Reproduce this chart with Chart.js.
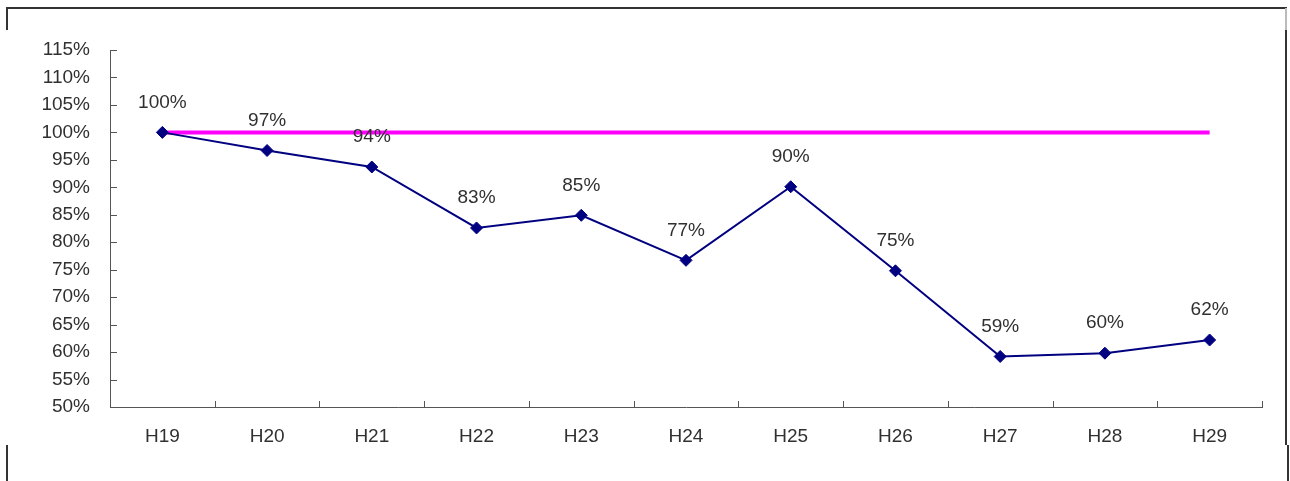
<!DOCTYPE html>
<html>
<head>
<meta charset="utf-8">
<script src="https://cdn.jsdelivr.net/npm/chart.js@4/dist/chart.umd.min.js"></script>
<style>
html,body{margin:0;padding:0;background:#fff;}
#wrap{position:relative;width:1290px;height:481px;}
</style>
</head>
<body>
<div id="wrap"><canvas id="c" width="1290" height="481"></canvas></div>
<script>
const categories = ['H19','H20','H21','H22','H23','H24','H25','H26','H27','H28','H29'];
const ratioValues = [100, 96.7, 93.7, 82.6, 84.9, 76.7, 90.1, 74.8, 59.2, 59.8, 62.2];
const baselineValues = [100, 100, 100, 100, 100, 100, 100, 100, 100, 100, 100];
const yTickMin = 50, yTickMax = 115, yTickStep = 5;

const FONT = '"Liberation Sans", Arial, sans-serif';
const TEXT = '#303030';
const AXIS = '#555555';

const decorPlugin = {
  id: 'decor',
  afterDraw(chart) {
    const ctx = chart.ctx;
    const x = chart.scales.x, y = chart.scales.y;
    const a = chart.chartArea;
    ctx.save();
    // inward tick marks
    ctx.strokeStyle = AXIS;
    ctx.lineWidth = 1;
    ctx.beginPath();
    y.ticks.forEach((t) => {
      const py = Math.round(y.getPixelForValue(t.value)) + 0.5;
      ctx.moveTo(a.left, py);
      ctx.lineTo(a.left + 7, py);
    });
    const n = categories.length;
    for (let i = 1; i <= n; i++) {
      const px = Math.round(a.left + (a.right - a.left) * i / n) + 0.5;
      ctx.moveTo(px, a.bottom);
      ctx.lineTo(px, a.bottom - 6);
    }
    ctx.stroke();
    // frame of the picture
    ctx.strokeStyle = '#333';
    ctx.lineWidth = 2;
    ctx.beginPath();
    ctx.moveTo(6, 8); ctx.lineTo(1287, 8);
    ctx.moveTo(7, 8); ctx.lineTo(7, 30);
    ctx.moveTo(1286, 30); ctx.lineTo(1286, 445);
    ctx.moveTo(7, 445); ctx.lineTo(7, 481);
    ctx.moveTo(1288, 445); ctx.lineTo(1288, 481);
    ctx.stroke();
    ctx.strokeStyle = '#bbb';
    ctx.beginPath();
    ctx.moveTo(1286, 8); ctx.lineTo(1286, 30);
    ctx.stroke();
    ctx.restore();
  },
  afterDatasetsDraw(chart) {
    const ctx = chart.ctx;
    const meta = chart.getDatasetMeta(0);
    ctx.save();
    ctx.font = '19px ' + FONT;
    ctx.fillStyle = TEXT;
    ctx.textAlign = 'center';
    ctx.textBaseline = 'middle';
    meta.data.forEach((pt, i) => {
      ctx.fillText(Math.round(ratioValues[i]) + '%', pt.x, pt.y - 30);
    });
    ctx.restore();
  }
};

new Chart(document.getElementById('c'), {
  type: 'line',
  data: {
    labels: categories,
    datasets: [
      {
        data: ratioValues,
        borderColor: '#000080',
        backgroundColor: '#000080',
        borderWidth: 2,
        pointStyle: 'rectRot',
        pointRadius: 6,
        pointBorderWidth: 1,
        pointBorderColor: '#000080',
        pointBackgroundColor: '#000080',
        tension: 0,
        order: 0
      },
      {
        data: baselineValues,
        borderColor: '#ff00ff',
        borderWidth: 4,
        pointRadius: 0,
        tension: 0,
        order: 1
      }
    ]
  },
  options: {
    responsive: false,
    animation: false,
    devicePixelRatio: 1,
    layout: { padding: { top: 50, right: 28, left: 0, bottom: 0 } },
    plugins: { legend: { display: false }, tooltip: { enabled: false } },
    scales: {
      x: {
        offset: true,
        grid: { display: false, drawTicks: false, offset: true },
        border: { display: true, color: AXIS, width: 1 },
        ticks: { color: TEXT, font: { family: FONT, size: 19 }, padding: 18, maxRotation: 0 },
        afterFit(s) { s.height = 74; }
      },
      y: {
        min: yTickMin,
        max: yTickMax,
        grid: { display: false, drawTicks: false },
        border: { display: true, color: AXIS, width: 1 },
        ticks: {
          stepSize: yTickStep,
          color: TEXT,
          font: { family: FONT, size: 19 },
          padding: 20,
          callback: (v) => v + '%'
        },
        afterFit(s) { s.width = 110; }
      }
    }
  },
  plugins: [decorPlugin]
});
</script>
</body>
</html>
